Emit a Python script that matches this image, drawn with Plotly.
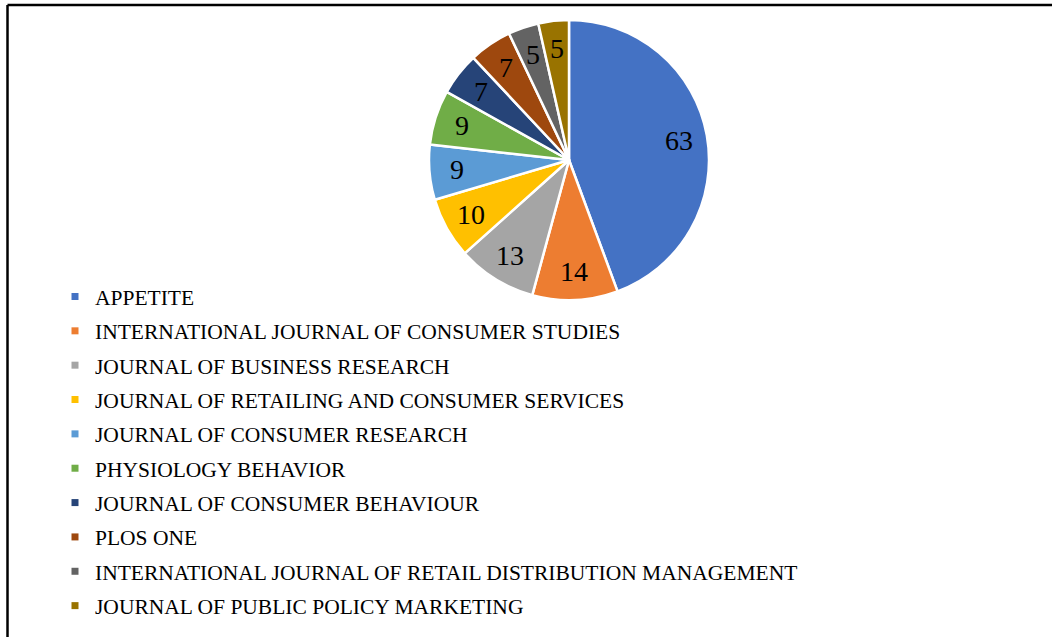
import math
import plotly.graph_objects as go

journals = [
    "APPETITE",
    "INTERNATIONAL JOURNAL OF CONSUMER STUDIES",
    "JOURNAL OF BUSINESS RESEARCH",
    "JOURNAL OF RETAILING AND CONSUMER SERVICES",
    "JOURNAL OF CONSUMER RESEARCH",
    "PHYSIOLOGY BEHAVIOR",
    "JOURNAL OF CONSUMER BEHAVIOUR",
    "PLOS ONE",
    "INTERNATIONAL JOURNAL OF RETAIL DISTRIBUTION MANAGEMENT",
    "JOURNAL OF PUBLIC POLICY MARKETING",
]
counts = [63, 14, 13, 10, 9, 9, 7, 7, 5, 5]
colors = ["#4472C4", "#ED7D31", "#A5A5A5", "#FFC000", "#5B9BD5",
          "#70AD47", "#264478", "#9E480E", "#636363", "#997300"]

W, H = 1052, 637
FONT = "Liberation Serif, Times New Roman, serif"

# pie geometry (pixels)
CX, CY, R = 569, 160, 140
LABEL_R = 0.8 * R

fig = go.Figure()
fig.add_trace(go.Pie(
    labels=journals,
    values=counts,
    sort=False,
    direction="clockwise",
    rotation=0,
    marker=dict(colors=colors, line=dict(color="white", width=2.5)),
    textinfo="none",
    showlegend=False,
    domain=dict(x=[(CX - R) / W, (CX + R) / W], y=[1 - (CY + R) / H, 1 - (CY - R) / H]),
    hoverinfo="label+value",
))

# legend entries (one group per journal so the row spacing can be set)
for name, col in zip(journals, colors):
    fig.add_trace(go.Scatter(
        x=[None], y=[None], mode="markers", name=name,
        marker=dict(symbol="square", size=7, color=col),
        legendgroup=name, showlegend=True, hoverinfo="skip",
    ))

# data labels placed along slice bisectors, computed from values
total = sum(counts)
annotations = []
cum = 0
for v in counts:
    mid = (cum + v / 2) / total * 2 * math.pi
    cum += v
    px = CX + LABEL_R * math.sin(mid)
    py = CY - LABEL_R * math.cos(mid)
    annotations.append(dict(
        x=px / W, y=1 - py / H, xref="paper", yref="paper",
        text=str(v), showarrow=False, xanchor="center", yanchor="middle",
        font=dict(family=FONT, size=28, color="black"),
    ))

fig.update_layout(
    width=W, height=H,
    margin=dict(l=0, r=0, t=0, b=0),
    paper_bgcolor="white",
    plot_bgcolor="white",
    xaxis=dict(visible=False),
    yaxis=dict(visible=False),
    font=dict(family=FONT, size=21.5, color="black"),
    annotations=annotations,
    legend=dict(
        x=55 / W, xanchor="left",
        y=1 - 276 / H, yanchor="top",
        font=dict(family=FONT, size=21.5, color="black"),
        bgcolor="rgba(0,0,0,0)",
        tracegroupgap=3.4,
    ),
    shapes=[
        dict(type="line", xref="paper", yref="paper",
             x0=7.5 / W, x1=1.05, y0=1 - 5 / H, y1=1 - 5 / H,
             line=dict(color="black", width=2.5)),
        dict(type="line", xref="paper", yref="paper",
             x0=7.5 / W, x1=7.5 / W, y0=-0.05, y1=1 - 5 / H,
             line=dict(color="black", width=2.5)),
    ],
)

fig.write_html("out.html")
